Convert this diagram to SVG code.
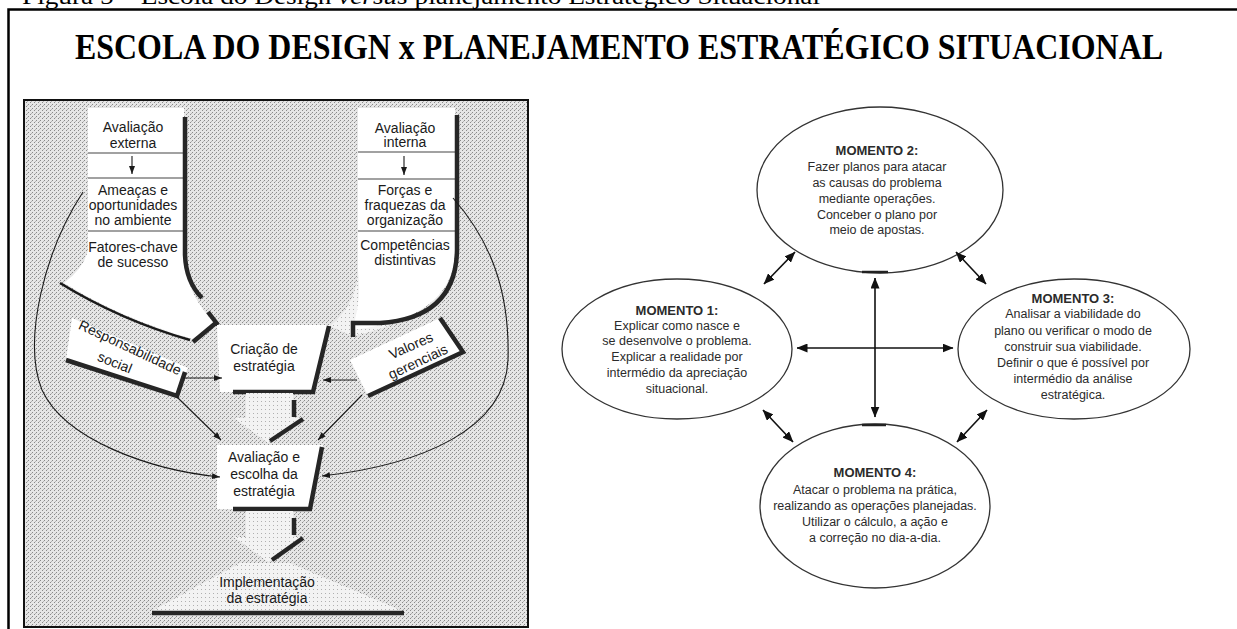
<svg xmlns="http://www.w3.org/2000/svg" width="1237" height="629" viewBox="0 0 1237 629">
<defs>
<pattern id="stip" width="4" height="4" patternUnits="userSpaceOnUse">
<rect width="4" height="4" fill="#e6e6e6"/>
<rect x="0" y="0" width="1" height="1" fill="#8a8a8a"/>
<rect x="2" y="2" width="1" height="1" fill="#8a8a8a"/>
<rect x="3" y="1" width="1" height="1" fill="#b4b4b4"/>
</pattern>
<pattern id="light" width="4" height="4" patternUnits="userSpaceOnUse">
<rect width="4" height="4" fill="#f3f3f3"/>
<rect x="1" y="1" width="1" height="1" fill="#b0b0b0"/>
</pattern>
<marker id="sa" viewBox="0 0 8 6" refX="8" refY="3" markerWidth="8" markerHeight="6" markerUnits="userSpaceOnUse" orient="auto">
<path d="M0,0 L8,3 L0,6 Z" fill="#1a1a1a"/>
</marker>
<marker id="ah" viewBox="0 0 11 9" refX="10.5" refY="4.5" markerWidth="11" markerHeight="9" markerUnits="userSpaceOnUse" orient="auto-start-reverse">
<path d="M0,0 L11,4.5 L0,9 Z" fill="#111"/>
</marker>
<style>
.cap{font-family:"Liberation Serif",serif;font-size:24px;fill:#000}
.title{font-family:"Liberation Serif",serif;font-size:36px;font-weight:bold;fill:#000}
.lt{font-family:"Liberation Sans",Arial,sans-serif;font-size:14px;fill:#1a1a1a;text-anchor:middle}
.rt{font-family:"Liberation Sans",Arial,sans-serif;font-size:12.5px;fill:#2b2b2b;text-anchor:middle}
.rb{font-weight:bold;font-size:13px}
.ell{fill:#fff;stroke:#333;stroke-width:1.3}
.sh{fill:none;stroke:#262626;stroke-width:4.5}
.thin{fill:none;stroke:#1a1a1a;stroke-width:1.1}
.sep{stroke:#444;stroke-width:1.2}
.con{fill:none;stroke:#111;stroke-width:1.6}
.wh{fill:#fff}
.lf{fill:url(#light)}
</style>
</defs>

<text class="cap" x="22" y="4" textLength="798" lengthAdjust="spacingAndGlyphs">Figura 5 – Escola do Design <tspan font-style="italic">versus</tspan> planejamento Estratégico Situacional</text>
<path d="M8.5,629 V9.5 H1237" fill="none" stroke="#000" stroke-width="2.5"/>
<text class="title" x="75" y="59" textLength="1088" lengthAdjust="spacingAndGlyphs">ESCOLA DO DESIGN x PLANEJAMENTO ESTRATÉGICO SITUACIONAL</text>

<g id="left-panel">
<rect x="24" y="100" width="504" height="527" fill="url(#stip)" stroke="#111" stroke-width="2"/>

<g id="funnel-right">
<path class="lf" d="M358,255 Q362,300 330,326 L352,336 Q440,320 455,250 Z"/>
</g>

<g id="node-externa">
<path class="wh" d="M88,108 H184 V255 Q186,296 217,325 L192,339 Q120,318 64,283 Q84,268 88,250 Z"/>
<line class="sep" x1="88" y1="153" x2="184" y2="153"/>
<line class="sep" x1="88" y1="178" x2="184" y2="178"/>
<line class="sep" x1="88" y1="231" x2="184" y2="231"/>
<line class="thin" x1="132" y1="156" x2="132" y2="174" marker-end="url(#sa)"/>
<text class="lt" x="133" y="132">Avaliação</text>
<text class="lt" x="133" y="148">externa</text>
<text class="lt" x="133" y="195">Ameaças e</text>
<text class="lt" x="133" y="210">oportunidades</text>
<text class="lt" x="133" y="225">no ambiente</text>
<text class="lt" x="133" y="252">Fatores-chave</text>
<text class="lt" x="133" y="267">de sucesso</text>
<path class="sh" d="M185,117 V255 Q186,282 202,298"/>
<path class="sh" d="M208,312 L218,325"/>
<path class="sh" d="M193,342 L217,322"/>
<path d="M60,283 Q120,320 190,340" fill="none" stroke="#1a1a1a" stroke-width="2.5"/>
</g>

<g id="node-interna">
<path class="wh" d="M358,108 H455 V250 Q455,318 352,330 Q362,300 358,270 Z"/>
<line class="sep" x1="358" y1="152" x2="455" y2="152"/>
<line class="sep" x1="358" y1="179" x2="455" y2="179"/>
<line class="sep" x1="358" y1="231" x2="455" y2="231"/>
<line class="thin" x1="404" y1="156" x2="404" y2="175" marker-end="url(#sa)"/>
<text class="lt" x="405" y="133">Avaliação</text>
<text class="lt" x="405" y="147">interna</text>
<text class="lt" x="405" y="195">Forças e</text>
<text class="lt" x="405" y="210">fraquezas da</text>
<text class="lt" x="405" y="225">organização</text>
<text class="lt" x="405" y="250">Competências</text>
<text class="lt" x="405" y="265">distintivas</text>
<path class="sh" d="M457,115 V250 Q456,318 380,323 L353,323 V337"/>
</g>

<g id="node-criacao">
<polygon class="wh" points="217,325 330,325 314,392 220,392"/>
<path class="sh" d="M329,326 L313,392 H233"/>
<text class="lt" x="264" y="354">Criação de</text>
<text class="lt" x="264" y="371">estratégia</text>
</g>

<g id="arrow-1">
<polygon class="lf" points="246,393 293,393 293,418 303,418 268,443 234,418 246,418"/>
<path class="sh" d="M294,400 V417"/>
<path class="sh" d="M303,419 L270,441"/>
</g>

<g id="node-avaliacao">
<polygon class="wh" points="217,445 323,445 310,509 217,509"/>
<path class="sh" d="M322,447 L310,509 H233"/>
<text class="lt" x="264" y="462">Avaliação e</text>
<text class="lt" x="264" y="479">escolha da</text>
<text class="lt" x="264" y="496">estratégia</text>
</g>

<g id="arrow-2">
<polygon class="lf" points="246,511 293,511 293,537 303,537 268,562 234,537 246,537"/>
<path class="sh" d="M294,518 V535"/>
<path class="sh" d="M303,538 L272,560"/>
</g>

<g id="node-implementacao">
<polygon class="lf" points="240,563 290,563 405,612 150,612"/>
<path class="sh" d="M152,613 H404"/>
<text class="lt" x="267" y="587">Implementação</text>
<text class="lt" x="267" y="603">da estratégia</text>
</g>

<g id="node-responsabilidade">
<polygon class="wh" points="72,318 188,368 177,396 66,360"/>
<path class="sh" d="M66,360 L177,396 L185,372"/>
<text class="lt" transform="translate(128,352) rotate(25)">Responsabilidade</text>
<text class="lt" transform="translate(113,367) rotate(22)">social</text>
</g>

<g id="node-valores">
<polygon class="wh" points="350,360 440,318 463,352 368,396"/>
<path class="sh" d="M440,318 L463,352 L368,396"/>
<text class="lt" transform="translate(413,350) rotate(-24)">Valores</text>
<text class="lt" transform="translate(420,366) rotate(-25)">gerenciais</text>
</g>

<g id="left-connectors">
<path class="thin" d="M183,378 H222" marker-end="url(#sa)"/>
<path class="thin" d="M357,380 H323" marker-end="url(#sa)"/>
<path class="thin" d="M177,397 L221,440" marker-end="url(#sa)"/>
<path class="thin" d="M362,395 L318,440" marker-end="url(#sa)"/>
<path class="thin" d="M83,192 C45,250 22,340 42,390 C65,440 150,470 220,477" marker-end="url(#sa)"/>
<path class="thin" d="M453,198 C490,240 510,290 508,360 C505,430 420,465 322,476" marker-end="url(#sa)"/>
</g>
</g>

<g id="momento-2">
<ellipse class="ell" cx="880" cy="190" rx="123" ry="83"/>
<path d="M862,272 H888" stroke="#222" stroke-width="2.5"/>
<text class="rt rb" x="877" y="155">MOMENTO 2:</text>
<text class="rt" x="877" y="171">Fazer planos para atacar</text>
<text class="rt" x="877" y="187">as causas do problema</text>
<text class="rt" x="877" y="203">mediante operações.</text>
<text class="rt" x="877" y="219">Conceber o plano por</text>
<text class="rt" x="877" y="234">meio de apostas.</text>
</g>

<g id="momento-1">
<ellipse class="ell" cx="677" cy="349" rx="115" ry="70"/>
<text class="rt rb" x="677" y="315">MOMENTO 1:</text>
<text class="rt" x="677" y="330">Explicar como nasce e</text>
<text class="rt" x="677" y="345">se desenvolve o problema.</text>
<text class="rt" x="677" y="361">Explicar a realidade por</text>
<text class="rt" x="677" y="377">intermédio da apreciação</text>
<text class="rt" x="677" y="393">situacional.</text>
</g>

<g id="momento-3">
<ellipse class="ell" cx="1074" cy="349" rx="116" ry="70"/>
<text class="rt rb" x="1073" y="303">MOMENTO 3:</text>
<text class="rt" x="1073" y="318">Analisar a viabilidade do</text>
<text class="rt" x="1073" y="335">plano ou verificar o modo de</text>
<text class="rt" x="1073" y="351">construir sua viabilidade.</text>
<text class="rt" x="1073" y="367">Definir o que é possível por</text>
<text class="rt" x="1073" y="383">intermédio da análise</text>
<text class="rt" x="1073" y="399">estratégica.</text>
</g>

<g id="momento-4">
<ellipse class="ell" cx="875" cy="506" rx="115" ry="82"/>
<path d="M862,425 H886" stroke="#222" stroke-width="2.5"/>
<text class="rt rb" x="875" y="477">MOMENTO 4:</text>
<text class="rt" x="875" y="494">Atacar o problema na prática,</text>
<text class="rt" x="875" y="510">realizando as operações planejadas.</text>
<text class="rt" x="875" y="526">Utilizar o cálculo, a ação e</text>
<text class="rt" x="875" y="542">a correção no dia-a-dia.</text>
</g>

<g id="connectors">
<line class="con" x1="764" y1="284" x2="795" y2="252" marker-start="url(#ah)" marker-end="url(#ah)"/>
<line class="con" x1="956" y1="252" x2="986" y2="284" marker-start="url(#ah)" marker-end="url(#ah)"/>
<line class="con" x1="763" y1="410" x2="793" y2="442" marker-start="url(#ah)" marker-end="url(#ah)"/>
<line class="con" x1="987" y1="410" x2="957" y2="442" marker-start="url(#ah)" marker-end="url(#ah)"/>
<line class="con" x1="875" y1="278" x2="875" y2="417" marker-start="url(#ah)" marker-end="url(#ah)"/>
<line class="con" x1="797" y1="348" x2="953" y2="348" marker-start="url(#ah)" marker-end="url(#ah)"/>
</g>
</svg>
